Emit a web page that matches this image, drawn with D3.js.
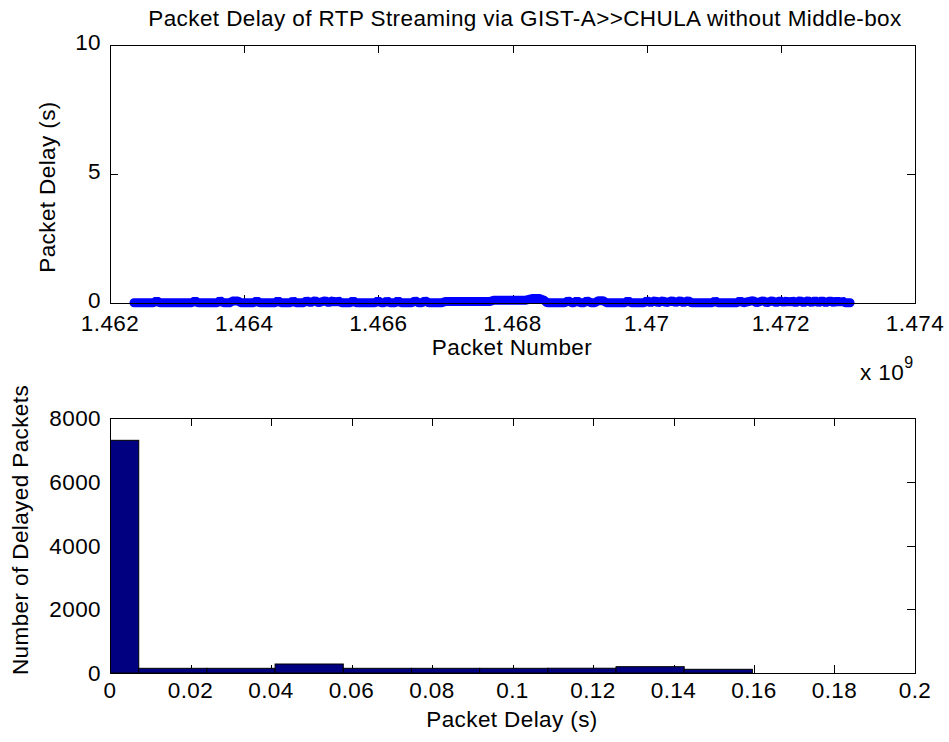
<!DOCTYPE html>
<html>
<head>
<meta charset="utf-8">
<script src="https://cdn.jsdelivr.net/npm/d3@7/dist/d3.min.js"></script>
<style>
  html, body { margin: 0; padding: 0; background: #fff; }
  svg text { font-family: "Liberation Sans", Arial, sans-serif; fill: #000; letter-spacing: 0.4px; }
</style>
</head>
<body>
<svg id="fig" width="949" height="742"></svg>
<script>
// ---- Top panel: packet delay vs. packet number ----
const packetNumbers = [
  1462358000, 1462650000, 1462696000, 1462740000, 1463220000, 1463267000, 1463310000,
  1463600000, 1463640000, 1463690000, 1463800000, 1463819000, 1463908000, 1463950000,
  1464140000, 1464187000, 1464230000, 1464460000, 1464504000, 1464550000, 1464690000,
  1464728000, 1464770000, 1464890000, 1464932000, 1464990000, 1465056000, 1465110000,
  1465205000, 1465260000, 1465324000, 1465360000, 1465399000, 1465450000, 1465580000,
  1465623000, 1465670000, 1465950000, 1465995000, 1466040000, 1466090000, 1466129000,
  1466170000, 1466250000, 1466293000, 1466340000, 1466500000, 1466547000, 1466600000,
  1466650000, 1466696000, 1466750000, 1466945000, 1467000000, 1467665000, 1467720000,
  1468200000, 1468291000, 1468410000, 1468470000, 1468515000, 1468580000, 1468780000,
  1468828000, 1468880000, 1468920000, 1468962000, 1469010000, 1469070000, 1469111000,
  1469170000, 1469230000, 1469280000, 1469349000, 1469400000, 1469680000, 1469722000,
  1469770000, 1469960000, 1470005000, 1470060000, 1470125000, 1470170000, 1470244000,
  1470290000, 1470378000, 1470430000, 1470497000, 1470550000, 1470617000, 1470670000,
  1470980000, 1471019000, 1471060000, 1471350000, 1471392000, 1471440000, 1471586000,
  1471640000, 1471735000, 1471790000, 1471869000, 1471930000, 1471988000, 1472040000,
  1472092000, 1472130000, 1472167000, 1472220000, 1472286000, 1472340000, 1472405000,
  1472460000, 1472510000, 1472560000, 1472614000, 1472670000, 1472733000, 1472790000,
  1472838000, 1472880000, 1472912000, 1472960000, 1473032000
];
const packetDelays = [
  0.01, 0.01, 0.09, 0.01, 0.01, 0.09, 0.01,
  0.01, 0.09, 0.01, 0.01, 0.08, 0.08, 0.01,
  0.01, 0.09, 0.01, 0.01, 0.09, 0.01, 0.01,
  0.09, 0.01, 0.01, 0.09, 0.01, 0.09, 0.01,
  0.09, 0.01, 0.09, 0.01, 0.09, 0.01, 0.01,
  0.09, 0.01, 0.01, 0.09, 0.01, 0.01, 0.09,
  0.01, 0.01, 0.09, 0.01, 0.01, 0.09, 0.01,
  0.01, 0.09, 0.01, 0.01, 0.06, 0.06, 0.11,
  0.11, 0.17, 0.17, 0.11, 0.01, 0.01, 0.01,
  0.09, 0.01, 0.01, 0.09, 0.01, 0.01, 0.09,
  0.01, 0.01, 0.09, 0.09, 0.01, 0.01, 0.09,
  0.01, 0.01, 0.09, 0.01, 0.09, 0.01, 0.09,
  0.01, 0.09, 0.01, 0.09, 0.01, 0.09, 0.01,
  0.01, 0.09, 0.01, 0.01, 0.09, 0.01, 0.09,
  0.01, 0.09, 0.01, 0.09, 0.01, 0.09, 0.01,
  0.09, 0.01, 0.09, 0.01, 0.09, 0.01, 0.09,
  0.01, 0.09, 0.01, 0.09, 0.01, 0.09, 0.01,
  0.09, 0.01, 0.09, 0.01, 0.01
];
const topXTicks = [1.462e9, 1.464e9, 1.466e9, 1.468e9, 1.47e9, 1.472e9, 1.474e9];
const topXTickLabels = ["1.462", "1.464", "1.466", "1.468", "1.47", "1.472", "1.474"];
const topYTicks = [0, 5, 10];

// ---- Bottom panel: histogram of delays ----
const binEdges = [-0.0098, 0.00714, 0.02408, 0.04102, 0.05796, 0.0749, 0.09184, 0.10878, 0.12572, 0.14266, 0.1596];
const binCounts = [7300, 147, 147, 282, 147, 147, 147, 150, 198, 116];
const bottomXTicks = [0, 0.02, 0.04, 0.06, 0.08, 0.1, 0.12, 0.14, 0.16, 0.18, 0.2];
const bottomYTicks = [0, 2000, 4000, 6000, 8000];

const svg = d3.select("#fig");
const FS = 22.5;
const TICK = 8;

const topBox = { left: 110, right: 915, top: 45, bottom: 303 };
const botBox = { left: 110, right: 915, top: 418, bottom: 673 };

function drawBoxTicks(g, box, xScale, yScale, xTicks, yTicks) {
  const s = "#000";
  xTicks.forEach(t => {
    const x = Math.round(xScale(t)) + 0.5;
    g.append("line").attr("x1", x).attr("x2", x).attr("y1", box.bottom).attr("y2", box.bottom - TICK).attr("stroke", s);
    g.append("line").attr("x1", x).attr("x2", x).attr("y1", box.top).attr("y2", box.top + TICK).attr("stroke", s);
  });
  yTicks.forEach(t => {
    const y = Math.round(yScale(t)) + 0.5;
    g.append("line").attr("x1", box.left).attr("x2", box.left + TICK).attr("y1", y).attr("y2", y).attr("stroke", s);
    g.append("line").attr("x1", box.right).attr("x2", box.right - TICK).attr("y1", y).attr("y2", y).attr("stroke", s);
  });
}
function drawFrame(g, box) {
  g.append("rect")
    .attr("x", box.left + 0.5).attr("y", box.top + 0.5)
    .attr("width", box.right - box.left).attr("height", box.bottom - box.top)
    .attr("fill", "none").attr("stroke", "#000").attr("stroke-width", 1);
}

// Title
svg.append("text")
  .attr("x", 525).attr("y", 26)
  .attr("text-anchor", "middle")
  .attr("font-size", FS)
  .text("Packet Delay of RTP Streaming via GIST-A>>CHULA without Middle-box");

// ===== Top panel =====
const xTop = d3.scaleLinear().domain([1.462e9, 1.474e9]).range([topBox.left, topBox.right]);
const yTop = d3.scaleLinear().domain([0, 10]).range([topBox.bottom, topBox.top]);
const gTop = svg.append("g");
drawBoxTicks(gTop, topBox, xTop, yTop, topXTicks, topYTicks);

const delayLine = d3.line()
  .x((d, i) => xTop(packetNumbers[i]))
  .y(d => yTop(d));
gTop.append("path")
  .datum(packetDelays)
  .attr("d", delayLine)
  .attr("fill", "none")
  .attr("stroke", "#0000ff")
  .attr("stroke-width", 9)
  .attr("stroke-linejoin", "bevel")
  .attr("stroke-linecap", "round");
drawFrame(gTop, topBox);

topXTicks.forEach((t, i) => {
  gTop.append("text").attr("x", xTop(t)).attr("y", topBox.bottom + 28)
    .attr("text-anchor", "middle").attr("font-size", FS).text(topXTickLabels[i]);
});
topYTicks.forEach(t => {
  gTop.append("text").attr("x", topBox.left - 9).attr("y", yTop(t) + 5)
    .attr("text-anchor", "end").attr("font-size", FS).text(t);
});
gTop.append("text").attr("x", 512).attr("y", 355)
  .attr("text-anchor", "middle").attr("font-size", FS).text("Packet Number");
const expo = gTop.append("text").attr("x", 860).attr("y", 380).attr("font-size", FS);
expo.append("tspan").text("x 10");
expo.append("tspan").attr("dy", -12).attr("font-size", 16).text("9");
gTop.append("text")
  .attr("transform", `translate(55,${(topBox.top + topBox.bottom) / 2 + 13}) rotate(-90)`)
  .attr("text-anchor", "middle").attr("font-size", FS).text("Packet Delay (s)");

// ===== Bottom panel =====
const xBot = d3.scaleLinear().domain([0, 0.2]).range([botBox.left, botBox.right]);
const yBot = d3.scaleLinear().domain([0, 8000]).range([botBox.bottom, botBox.top]);
const gBot = svg.append("g");
drawBoxTicks(gBot, botBox, xBot, yBot, bottomXTicks, bottomYTicks);

svg.append("defs").append("clipPath").attr("id", "botClip")
  .append("rect").attr("x", botBox.left).attr("y", botBox.top)
  .attr("width", botBox.right - botBox.left).attr("height", botBox.bottom - botBox.top + 1);

gBot.append("g").attr("clip-path", "url(#botClip)")
  .selectAll("rect").data(binCounts).join("rect")
  .attr("x", (d, i) => xBot(binEdges[i]))
  .attr("y", d => yBot(d))
  .attr("width", (d, i) => xBot(binEdges[i + 1]) - xBot(binEdges[i]))
  .attr("height", d => yBot(0) - yBot(d))
  .attr("fill", "#000080")
  .attr("stroke", "#000")
  .attr("stroke-width", 1);
drawFrame(gBot, botBox);

bottomXTicks.forEach(t => {
  gBot.append("text").attr("x", xBot(t)).attr("y", botBox.bottom + 25)
    .attr("text-anchor", "middle").attr("font-size", FS).text(d3.format("~g")(t));
});
bottomYTicks.forEach(t => {
  gBot.append("text").attr("x", botBox.left - 9).attr("y", yBot(t) + 8)
    .attr("text-anchor", "end").attr("font-size", FS).text(t);
});
gBot.append("text").attr("x", 512).attr("y", 727)
  .attr("text-anchor", "middle").attr("font-size", FS).text("Packet Delay (s)");
gBot.append("text")
  .attr("transform", `translate(28,530) rotate(-90)`)
  .attr("text-anchor", "middle").attr("font-size", FS).text("Number of Delayed Packets");
</script>
</body>
</html>
